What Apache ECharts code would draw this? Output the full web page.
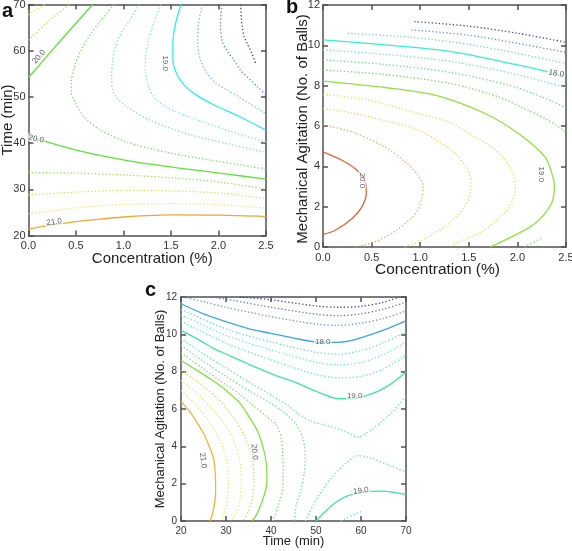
<!DOCTYPE html>
<html><head><meta charset="utf-8">
<script src="https://cdn.jsdelivr.net/npm/echarts@6/dist/echarts.min.js"></script>
<style>html,body{margin:0;padding:0;background:#fff}#c{width:572px;height:551px}</style>
</head><body><div id="c"></div>
<script>
// ---------- Panel a : Concentration (%) vs Time (min) ----------
const A_XTICKS = [0, 0.5, 1.0, 1.5, 2.0, 2.5];
const A_YTICKS = [20, 30, 40, 50, 60, 70];
const A_210 = [[0,21.4],[0.25,22.3],[0.5,23.0],[0.75,23.55],[1.0,24.0],[1.25,24.3],[1.5,24.45],[2.0,24.4],[2.5,24.1]];
const A_2075 = [[0,24.7],[0.5,26.0],[1.0,26.7],[1.5,26.9],[2.0,26.7],[2.5,25.9]];
const A_205 = [[0,28.8],[0.5,29.4],[1.0,29.75],[1.5,29.65],[2.0,29.2],[2.5,28.0]];
const A_2025 = [[0,33.6],[0.5,33.5],[1.0,33.1],[1.5,32.5],[2.0,31.6],[2.5,30.0]];
const A_200_LOW = [[0,41.5],[0.515,38.4],[1.04,36.2],[1.565,34.65],[2.09,33.3],[2.5,32.2]];
const A_200_UP = [[0,54.2],[0.308,61.5],[0.675,70]];
const A_2025_UP = [[0,62.3],[0.2,66.2],[0.43,70]];
const A_205_UP = [[0,67.75],[0.17,70]];
const A_1975 = [[0.90,70],[0.76,66.5],[0.66,63.8],[0.55,60],[0.483,56.5],[0.45,53],[0.45,51],[0.48,49.3],[0.585,45.65],[0.76,42.8],[1.04,40.2],[1.46,38.0],[1.95,36.2],[2.5,34.4]];
const A_195 = [[1.166,70],[1.06,66.5],[0.974,63.8],[0.91,60.5],[0.886,58],[0.875,54],[0.885,51.5],[0.93,49.8],[1.04,47.8],[1.285,44.9],[1.67,42.0],[2.09,39.9],[2.5,38.0]];
const A_1925 = [[1.394,70],[1.30,65],[1.24,60],[1.23,56],[1.26,52.5],[1.32,50],[1.45,47.8],[1.74,45.3],[2.09,42.8],[2.5,40.2]];
const A_190 = [[1.604,70],[1.55,66],[1.52,62],[1.52,58],[1.56,55],[1.64,52.5],[1.76,50.5],[1.95,48.3],[2.23,45.65],[2.5,42.8]];
const A_1875 = [[1.83,70],[1.79,66],[1.78,62],[1.81,58],[1.88,55.1],[1.97,53],[2.09,51.5],[2.2,50.2],[2.33,48.5],[2.5,46.4]];
const A_185 = [[2.04,70],[2.02,66],[2.04,62],[2.09,60],[2.16,58],[2.23,55.8],[2.33,53.8],[2.41,52.2],[2.5,50.4]];
const A_1825 = [[2.234,70],[2.24,67],[2.25,65.2],[2.27,63],[2.30,61.6],[2.35,59.5],[2.39,57.3]];
const A_LABEL_TEXT = ['21.0', '20.0', '20.0', '19.0'];
const A_LABEL_AT = [[0.27,22.9],[0.08,40.9],[0.11,58.7],[1.44,57.3]];

// ---------- Panel b : Concentration (%) vs Mechanical Agitation ----------
const B_XTICKS = [0, 0.5, 1.0, 1.5, 2.0, 2.5];
const B_YTICKS = [0, 2, 4, 6, 8, 10, 12];
const B_200 = [[0,4.72],[0.195,4.30],[0.35,3.81],[0.435,3.23],[0.445,2.65],[0.40,1.99],[0.30,1.41],[0.127,0.83],[0,0.63]];
const B_1975 = [[0,6.05],[0.3,5.7],[0.634,4.97],[0.85,4.2],[0.97,3.6],[1.03,2.99],[1.01,2.3],[0.96,1.7],[0.755,0.83],[0.53,0.25],[0.326,0]];
const B_195 = [[0,6.87],[0.3,6.65],[0.6,6.3],[0.977,5.8],[1.32,4.8],[1.49,3.82],[1.525,2.99],[1.456,1.99],[1.25,1.0],[0.977,0.25],[0.84,0]];
const B_1925 = [[0,7.57],[0.47,7.28],[0.98,6.62],[1.32,6.15],[1.5,5.63],[1.73,4.97],[1.84,4.5],[1.94,3.82],[1.98,2.99],[1.92,1.99],[1.80,1.4],[1.66,0.83],[1.45,0.35],[1.29,0]];
const B_190 = [[0,8.23],[0.64,7.91],[1.154,7.53],[1.668,6.62],[2.01,5.63],[2.284,4.47],[2.37,3.39],[2.38,3.0],[2.35,2.16],[2.18,1.16],[1.94,0.5],[1.72,0]];
const B_1875 = [[0,8.78],[0.64,8.55],[1.32,8.1],[1.8,7.45],[2.1,6.8],[2.31,6.3],[2.5,5.7]];
const B_1875_LOW = [[2.07,0],[2.24,0.42]];
const B_185 = [[0,9.28],[0.64,9.05],[1.32,8.65],[2.0,7.9],[2.5,6.92]];
const B_1825 = [[0,9.78],[0.64,9.55],[1.32,9.2],[2.0,8.55],[2.5,7.9]];
const B_180 = [[0,10.27],[0.64,10.02],[1.32,9.69],[2.0,9.03],[2.5,8.48]];
const B_1775 = [[0.256,10.6],[0.9,10.4],[1.5,10.05],[2.0,9.6],[2.5,9.1]];
const B_175 = [[0.91,10.77],[1.5,10.5],[2.0,10.1],[2.5,9.65]];
const B_1725 = [[0.94,11.18],[1.5,10.95],[2.0,10.6],[2.5,10.15]];
const B_LABEL_TEXT = ['20.0', '19.0', '18.0'];
const B_LABEL_AT = [[0.40,3.3],[2.25,3.6],[2.4,8.6]];

// ---------- Panel c : Time (min) vs Mechanical Agitation ----------
const C_XTICKS = [20, 30, 40, 50, 60, 70];
const C_YTICKS = [0, 2, 4, 6, 8, 10, 12];
const C_210 = [[20,6.41],[22,5.85],[23.5,5.3],[25,4.7],[26.1,4.1],[27.2,3.4],[27.6,2.6],[27.7,1.64],[27.3,0.7],[26.5,0]];
const C_2075 = [[20,7.0],[23,6.3],[26,5.4],[28.5,4.4],[30,3.4],[30.5,2.3],[30.4,1.3],[29.8,0.6],[28.9,0]];
const C_205 = [[20,7.54],[23.5,6.85],[27,6.0],[30,5.1],[32.2,4.0],[33.2,3.0],[33.4,2.0],[33,1.0],[32.2,0.4],[31.2,0]];
const C_2025 = [[20,8.07],[24,7.4],[28,6.6],[31.5,5.6],[34,4.6],[35.7,3.5],[36.2,2.3],[35.8,1.2],[34.9,0.5],[33.8,0]];
const C_200 = [[20,8.6],[24,8.0],[27.2,7.5],[30,7.0],[33.2,6.29],[35.2,5.55],[36.9,4.86],[38.3,3.9],[39.0,3.0],[39.1,2.2],[38.9,1.75],[37.8,0.9],[36.7,0.3],[35.8,0]];
const C_1975 = [[20,9.0],[25,8.15],[30,7.3],[33,6.8],[36,6.2],[39,5.6],[41.2,5.13],[42.3,4.4],[42.6,3.52],[42.7,2.6],[42.6,1.74],[41.7,0.9],[40.4,0]];
const C_195 = [[20,9.41],[25,8.55],[30,7.75],[35,7.0],[40,6.3],[43,5.8],[45.5,5.2],[47.1,4.41],[47.6,3.5],[47.4,2.62],[46.6,1.6],[45.6,0.84],[45.2,0]];
const C_1925_UP = [[20,9.77],[25,8.95],[30,8.2],[35,7.45],[40,6.75],[43.4,6.25],[46,5.75],[49,5.35],[52.5,5.1],[56,4.85],[59.5,4.5],[61,4.7],[62.6,4.95],[64.2,5.25],[67,5.85],[70,6.7]];
const C_1925_LOW = [[47.6,0],[49.5,0.9],[51.5,1.7],[53.7,2.4],[56.7,3.1],[59.3,3.5],[61.9,3.4],[66.3,2.98],[70,2.63]];
const C_190_UP = [[20,10.21],[24,9.7],[27.2,9.25],[30.9,8.85],[34.6,8.45],[40,7.9],[45.7,7.4],[50,6.95],[53.9,6.6],[56,6.55],[58.3,6.56],[61,6.7],[64.2,7.0],[67,7.4],[70,7.98]];
const C_190_LOW = [[50,0],[52,0.5],[54.5,1.02],[57,1.35],[60.4,1.55],[64.8,1.6],[70,1.41]];
const C_1875_LOW = [[55.5,0],[58,0.3],[60.5,0.55]];
const C_1875 = [[20,10.70],[30,9.53],[40,8.63],[50,7.85],[55,7.68],[60,7.75],[65,8.15],[70,8.89]];
const C_185 = [[20,11.05],[30,9.95],[40,9.17],[50,8.51],[55,8.37],[60,8.50],[65,8.93],[70,9.58]];
const C_1825 = [[20,11.34],[30,10.29],[40,9.60],[50,9.04],[55,8.94],[60,9.13],[65,9.55],[70,10.14]];
const C_180 = [[20,11.64],[25,11.1],[30,10.68],[35,10.3],[40,10.05],[46,9.75],[50.2,9.59],[54.6,9.57],[57.5,9.65],[60.5,9.85],[65,10.22],[70,10.72]];
const C_1775 = [[20.5,12],[25,11.75],[30,11.45],[40,10.95],[50,10.55],[55,10.48],[60,10.6],[65,10.85],[70,11.25]];
const C_175 = [[27,12],[32,11.8],[40,11.45],[50,11.08],[55,11.0],[60,11.1],[65,11.35],[70,11.72]];
const C_1725 = [[33,12],[40,11.85],[50,11.52],[55,11.45],[60,11.5],[65,11.72],[68.5,12]];
const C_LABEL_TEXT = ['18.0', '19.0', '19.0', '20.0', '21.0'];
const C_LABEL_AT = [[51.5,9.61],[58.6,6.72],[60.0,1.62],[36.3,3.7],[24.9,3.25]];

// ---------- styles (not data) ----------
const FONT = 'Liberation Sans, Arial, sans-serif';
const DOT = [1.3, 2.2];
const A_STYLE = [
  [A_210,'#f2a632',true],[A_2075,'#f6e46a',false],[A_205,'#cfe855',false],[A_2025,'#98e24e',false],
  [A_200_LOW,'#5fe23c',true],[A_200_UP,'#5fe23c',true],[A_2025_UP,'#a8e85a',false],[A_205_UP,'#d6ec6c',false],
  [A_1975,'#6ee660',false],[A_195,'#74eca4',false],[A_1925,'#6ef0dc',false],[A_190,'#2eecec',true],
  [A_1875,'#6cbcf0',false],[A_185,'#5a82e6',false],[A_1825,'#3a44c0',false]
];
const B_STYLE = [
  [B_200,'#e8603c',true],[B_1975,'#f6a46c',false],[B_195,'#f6d05c',false],[B_1925,'#d6e84e',false],
  [B_190,'#8ee23e',true],[B_1875,'#6ae25a',false],[B_1875_LOW,'#6ae25a',false],[B_185,'#5ee87c',false],
  [B_1825,'#62f0c4',false],[B_180,'#36ecdc',true],[B_1775,'#6cd4f0',false],[B_175,'#6490e6',false],[B_1725,'#3c44bc',false]
];
const C_STYLE = [
  [C_210,'#f2b43e',true],[C_2075,'#f6e462',false],[C_205,'#e0ec62',false],[C_2025,'#b2e852',false],
  [C_200,'#80e23e',true],[C_1975,'#6ee662',false],[C_195,'#62e882',false],[C_1925_UP,'#5aeca2',false],[C_1925_LOW,'#5aeca2',false],
  [C_190_UP,'#3ee6a2',true],[C_190_LOW,'#3ee6a2',true],[C_1875_LOW,'#4ef0d4',false],[C_1875,'#4ef0d4',false],
  [C_185,'#5ef0f0',false],[C_1825,'#62d6f2',false],[C_180,'#3ea6e8',true],[C_1775,'#6692ea',false],[C_175,'#5474e0',false],[C_1725,'#3a3cb8',false]
];
const A_LABEL_ROT = [8, -12, 49, -90];
const B_LABEL_ROT = [-90, -90, -10];
const C_LABEL_ROT = [0, 0, 8, -85, -82];

const GRIDS = [
  {left: 28.5, top: 4.5, width: 237.5, height: 231},
  {left: 323, top: 5, width: 243, height: 242},
  {left: 181, top: 297, width: 225, height: 224}
];

function axisPair(g, ticks, isX, opts) {
  const base = {
    type: 'value', gridIndex: g, min: ticks[0], max: ticks[ticks.length - 1],
    interval: ticks[1] - ticks[0],
    axisLine: {show: true, onZero: false, lineStyle: {color: '#505050', width: 1.5}},
    axisTick: {show: true, inside: true, length: 5, lineStyle: {color: '#505050', width: 1.5}},
    splitLine: {show: false}
  };
  const main = Object.assign({}, base, {
    position: isX ? 'bottom' : 'left',
    axisLabel: {show: true, margin: opts.margin, fontSize: opts.tickSize, color: '#333', fontFamily: FONT,
      formatter: opts.fmt || (v => String(v))},
    name: opts.name, nameLocation: 'middle', nameGap: opts.nameGap, nameMoveOverlap: false,
    nameTextStyle: {fontSize: opts.nameSize, color: '#222', fontFamily: FONT, padding: opts.namePad || 0}
  });
  const twin = Object.assign({}, base, {position: isX ? 'top' : 'right', axisLabel: {show: false}});
  return [main, twin];
}

const xAxis = [].concat(
  axisPair(0, A_XTICKS, true, {margin: 5, tickSize: 11, name: 'Concentration (%)', nameGap: 16, nameSize: 15, namePad: [0, 0, 0, 10], fmt: v => v.toFixed(1)}),
  axisPair(1, B_XTICKS, true, {margin: 5, tickSize: 11, name: 'Concentration (%)', nameGap: 15, nameSize: 15.5, namePad: [0, 14, 0, 0], fmt: v => v.toFixed(1)}),
  axisPair(2, C_XTICKS, true, {margin: 5, tickSize: 10, name: 'Time (min)', nameGap: 14, nameSize: 13})
);
const yAxis = [].concat(
  axisPair(0, A_YTICKS, false, {margin: 3, tickSize: 11, name: 'Time (min)', nameGap: 13, nameSize: 15}),
  axisPair(1, B_YTICKS, false, {margin: 3, tickSize: 11, name: 'Mechanical Agitation (No. of Balls)', nameGap: 13, nameSize: 15, namePad: [0, 6, 0, 0]}),
  axisPair(2, C_YTICKS, false, {margin: 4, tickSize: 10, name: 'Mechanical Agitation (No. of Balls)', nameGap: 14, nameSize: 13})
);

const series = [];
[A_STYLE, B_STYLE, C_STYLE].forEach((list, p) => {
  list.forEach(([data, color, solid]) => {
    series.push({
      type: 'line', xAxisIndex: 2 * p, yAxisIndex: 2 * p, data: data,
      symbol: 'none', showSymbol: false, smooth: 0.3, silent: true, clip: true,
      lineStyle: {color: color, width: 1.3, type: solid ? 'solid' : DOT},
      z: 2
    });
  });
});
[[A_LABEL_TEXT, A_LABEL_AT, A_LABEL_ROT], [B_LABEL_TEXT, B_LABEL_AT, B_LABEL_ROT], [C_LABEL_TEXT, C_LABEL_AT, C_LABEL_ROT]].forEach(([txt, at, rot], p) => {
  series.push({
    type: 'scatter', xAxisIndex: 2 * p, yAxisIndex: 2 * p, symbolSize: 1, silent: true, z: 5,
    itemStyle: {color: 'rgba(0,0,0,0)'},
    data: at.map((pt, i) => ({
      value: pt,
      label: {show: true, position: 'inside', formatter: txt[i], rotate: rot[i], fontSize: 8,
        color: '#333', fontFamily: FONT, backgroundColor: 'rgba(255,255,255,0.85)', padding: [0, 1]}
    }))
  });
});

const option = {
  animation: false,
  backgroundColor: '#fff',
  title: [
    {text: 'a', left: 2, top: 1, padding: 0, textStyle: {fontSize: 20, fontWeight: 'bold', color: '#111', fontFamily: FONT}},
    {text: 'b', left: 286, top: -3, padding: 0, textStyle: {fontSize: 20, fontWeight: 'bold', color: '#111', fontFamily: FONT}},
    {text: 'c', left: 145, top: 280, padding: 0, textStyle: {fontSize: 20, fontWeight: 'bold', color: '#111', fontFamily: FONT}}
  ],
  grid: GRIDS.map(g => Object.assign({containLabel: false, outerBoundsMode: 'none'}, g)),
  xAxis: xAxis,
  yAxis: yAxis,
  series: series
};
const chart = echarts.init(document.getElementById('c'));
chart.setOption(option);
</script></body></html>
